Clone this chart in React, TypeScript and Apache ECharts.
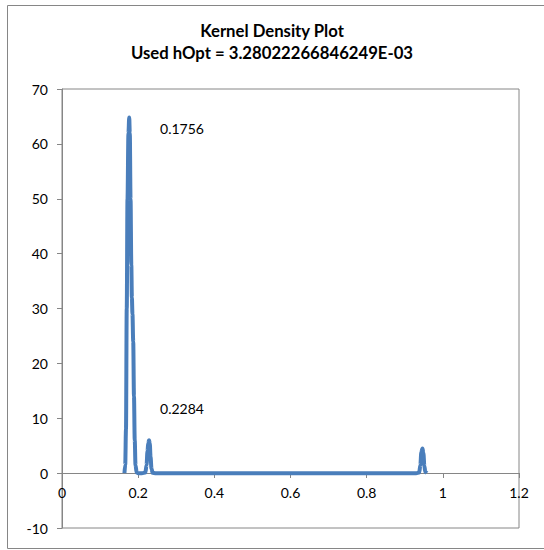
import React, { useEffect, useRef } from "react";
import * as echarts from "echarts";

const titleLines = ["Kernel Density Plot", "Used hOpt = 3.28022266846249E-03"];

// Density curve points: [x, density]
const densityX = [
  0.164, 0.166, 0.168, 0.170, 0.172, 0.1745, 0.1765, 0.178, 0.180, 0.182, 0.1835,
  0.185, 0.187, 0.189, 0.191, 0.193, 0.196, 0.200, 0.210, 0.219, 0.222, 0.2245,
  0.2265, 0.2284, 0.2305, 0.2325, 0.235, 0.238, 0.245, 0.400, 0.600, 0.800,
  0.930, 0.938, 0.941, 0.9435, 0.9465, 0.949, 0.9515, 0.954, 0.958,
];
const densityY = [
  0, 1.5, 8, 30, 50, 62, 64.8, 62, 50, 38, 32,
  29, 24, 14, 6, 1.5, 0.1, 0, 0, 0.1, 1.5, 4,
  5.5, 6, 5.4, 3, 0.8, 0.05, 0, 0, 0, 0,
  0, 0.1, 1.5, 3.8, 4.5, 3.6, 1.3, 0.2, 0,
];

const peakLabels = ["0.1756", "0.2284"];
const peakLabelAt = [
  [0.315, 62.8],
  [0.315, 11.8],
];

const xMin = 0;
const xMax = 1.2;
const xInterval = 0.2;
const yMin = -10;
const yMax = 70;
const yInterval = 10;

const FONT = "Lato";
const GRAY = "#868686";

export default function App() {
  const ref = useRef<HTMLDivElement>(null);

  useEffect(() => {
    if (!ref.current) return;
    const chart = echarts.init(ref.current, undefined, { renderer: "svg" });
    const data = densityX.map((x, i) => [x, densityY[i]]);
    chart.setOption({
      animation: false,
      backgroundColor: "#ffffff",
      textStyle: { fontFamily: FONT },
      title: {
        text: titleLines.join("\n"),
        left: "center",
        top: 15,
        textStyle: {
          fontFamily: FONT,
          fontWeight: "bold",
          fontSize: 16.7,
          lineHeight: 22,
          color: "#000000",
        },
      },
      grid: {
        left: 62,
        top: 89,
        right: 25,
        bottom: 22,
        show: true,
        borderColor: GRAY,
        borderWidth: 1,
        backgroundColor: "transparent",
      },
      xAxis: {
        type: "value",
        min: xMin,
        max: xMax,
        interval: xInterval,
        offset: -55,
        axisLine: { onZero: false, lineStyle: { color: GRAY, width: 1 } },
        axisTick: { show: true, inside: false, length: 5, lineStyle: { color: GRAY } },
        axisLabel: {
          color: "#000000",
          fontFamily: FONT,
          fontSize: 14,
          margin: 12,
          formatter: (v: number) => String(Math.round(v * 10) / 10),
        },
        splitLine: { show: false },
      },
      yAxis: {
        type: "value",
        min: yMin,
        max: yMax,
        interval: yInterval,
        axisLine: { show: true, onZero: false, lineStyle: { color: GRAY, width: 1 } },
        axisTick: { show: true, inside: false, length: 5, lineStyle: { color: GRAY } },
        axisLabel: {
          color: "#000000",
          fontFamily: FONT,
          fontSize: 14,
          margin: 14,
        },
        splitLine: { show: false },
      },
      series: [
        {
          type: "line",
          data,
          smooth: 0.35,
          smoothMonotone: "x",
          showSymbol: false,
          lineStyle: { color: "#4a7ebb", width: 4 },
          markPoint: {
            symbol: "circle",
            symbolSize: 0,
            itemStyle: { color: "transparent" },
            data: peakLabels.map((t, i) => ({
              coord: peakLabelAt[i],
              value: t,
              label: {
                show: true,
                formatter: t,
                color: "#000000",
                fontFamily: FONT,
                fontSize: 14,
                position: "inside",
              },
            })),
          },
        },
      ],
      graphic: [
        {
          type: "rect",
          shape: { x: 7.5, y: 5.5, width: 560, height: 543 },
          style: { fill: "none", stroke: GRAY, lineWidth: 1 },
          silent: true,
        },
      ],
    });
    return () => chart.dispose();
  }, []);

  return (
    <div
      ref={ref}
      style={{ position: "absolute", left: 0, top: 0, width: 544, height: 550 }}
    />
  );
}
